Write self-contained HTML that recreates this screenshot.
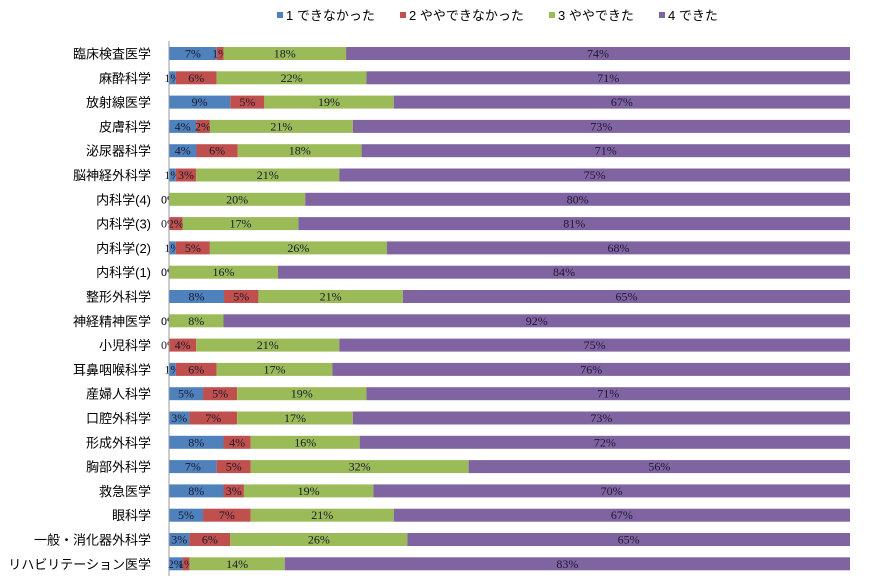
<!DOCTYPE html>
<html><head><meta charset="utf-8">
<style>
html,body{margin:0;padding:0;background:#fff;}
svg{display:block;}
.cat{font-family:"Liberation Sans","Noto Sans CJK JP",sans-serif;font-size:13px;fill:#000;}
.lbl{font-family:"Liberation Serif","Noto Serif CJK SC",serif;font-size:12px;fill:#1a1a2e;}
.leg{font-family:"Liberation Sans","Noto Sans CJK JP",sans-serif;font-size:13px;fill:#000;}
</style></head>
<body>
<svg id="chart" width="870" height="586" viewBox="0 0 870 586" xmlns="http://www.w3.org/2000/svg"></svg>
<script>
const categories = ["臨床検査医学","麻酔科学","放射線医学","皮膚科学","泌尿器科学","脳神経外科学","内科学(4)","内科学(3)","内科学(2)","内科学(1)","整形外科学","神経精神医学","小児科学","耳鼻咽喉科学","産婦人科学","口腔外科学","形成外科学","胸部外科学","救急医学","眼科学","一般・消化器外科学","リハビリテーション医学"];
const s1 = [7,1,9,4,4,1,0,0,1,0,8,0,0,1,5,3,8,7,8,5,3,2];
const s2 = [1,6,5,2,6,3,0,2,5,0,5,0,4,6,5,7,4,5,3,7,6,1];
const s3 = [18,22,19,21,18,21,20,17,26,16,21,8,21,17,19,17,16,32,19,21,26,14];
const s4 = [74,71,67,73,71,75,80,81,68,84,65,92,75,76,71,73,72,56,70,67,65,83];
const seriesNames = ["1 できなかった","2 ややできなかった","3 ややできた","4 できた"];
const colors = ["#4f81bd","#c0504d","#9bbb59","#8064a2"];
const series = [s1,s2,s3,s4];

const svg = document.getElementById('chart');
const NS = "http://www.w3.org/2000/svg";
const x0 = 169, plotW = 681, yTop = 53.5, step = 24.3, barH = 13;
function xs(frac){ return x0 + frac*plotW; }
function yc(i){ return yTop + i*step; }
function mk(tag, attrs){ const e=document.createElementNS(NS,tag); for(const k in attrs) e.setAttribute(k,attrs[k]); svg.appendChild(e); return e; }

const legX = [277, 400, 549, 659];
seriesNames.forEach((n,k)=>{
  const r = mk('rect',{x:legX[k],y:12,width:6,height:6,fill:colors[k]});
  
  
  const t = mk('text',{x:legX[k]+9,y:20,class:'leg'});
  t.textContent = n;
  
  
});

categories.forEach((c,i)=>{
  const y = yc(i);
  const t = mk('text',{x:151,y:y+5,class:'cat','text-anchor':'end'});
  t.textContent = c;
  
  
  const total = series.reduce((a,s)=>a+s[i],0);
  let cum = 0;
  series.forEach((s,k)=>{
    const v = s[i];
    const xa = xs(cum/total), xb = xs((cum+v)/total);
    if (v>0){
      const r = mk('rect',{x:xa,y:y-barH/2,width:xb-xa,height:barH,fill:colors[k]});
      
      
    }
    if (k<3 || v>0){
      const lt = mk('text',{x:(xa+xb)/2,y:y+4,class:'lbl','text-anchor':'middle'});
      lt.textContent = v+'%';
      
      
    }
    cum += v;
  });
});

const ax = mk('line',{x1:x0,y1:41,x2:x0,y2:576,stroke:'#999','stroke-width':1});


</script>
</body></html>
